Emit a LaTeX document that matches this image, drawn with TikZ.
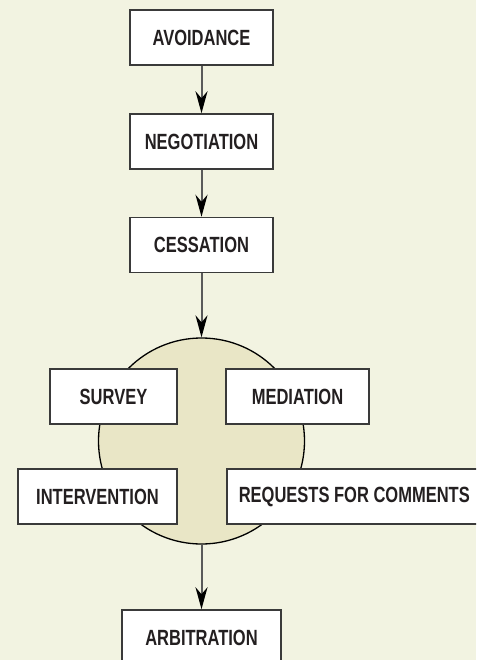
\documentclass[tikz,border=0pt]{standalone}
\usepackage{fontspec}
\setmainfont{Liberation Sans}[FakeStretch=0.75]
\usetikzlibrary{arrows.meta}
\definecolor{paper}{HTML}{F2F3E1}
\definecolor{hubfill}{HTML}{E9E6C6}
\definecolor{boxline}{HTML}{3A3A3A}
\definecolor{arrline}{HTML}{5A5A5A}
\definecolor{ink}{HTML}{231F20}
\begin{document}
\begin{tikzpicture}[x=1pt, y=-1pt,
  every node/.style={font=\bfseries\fontsize{22}{26}\selectfont, text=ink},
  stepbox/.style={draw=boxline, line width=1.5pt, fill=white, minimum height=55pt, inner sep=0pt},
  flow/.style={draw=arrline, line width=2pt, -{Stealth[length=22pt, width=12pt, inset=7pt, color=black]}}]
\clip (0,0) rectangle (476,660);
\fill [paper] (0,0) rectangle (476,660);
\node [circle, fill=hubfill, draw=black, line width=1.3pt, minimum size=206pt, inner sep=0pt] (hub) at (201.5,441) {};
\node [stepbox, minimum width=143pt] (avoid) at (201.5,37.5) {AVOIDANCE};
\node [stepbox, minimum width=143pt] (negot) at (201.5,141.5) {NEGOTIATION};
\node [stepbox, minimum width=143pt] (cess) at (201.5,245) {CESSATION};
\node [stepbox, minimum width=127pt] (survey) at (113.5,396.5) {SURVEY};
\node [stepbox, minimum width=143pt] (mediation) at (297.5,396.5) {MEDIATION};
\node [stepbox, minimum width=159pt] (interv) at (97.5,496.5) {INTERVENTION};
\node [stepbox, anchor=west, inner xsep=12pt] (rfc) at (226,496.5) {REQUESTS FOR COMMENTS};
\node [stepbox, minimum width=159pt] (arbit) at (201.5,637.5) {ARBITRATION};
\draw [flow] (avoid) -- (negot);
\draw [flow] (negot) -- (cess);
\draw [flow] (cess) -- (hub);
\draw [flow] (hub) -- (arbit);
\end{tikzpicture}
\end{document}
